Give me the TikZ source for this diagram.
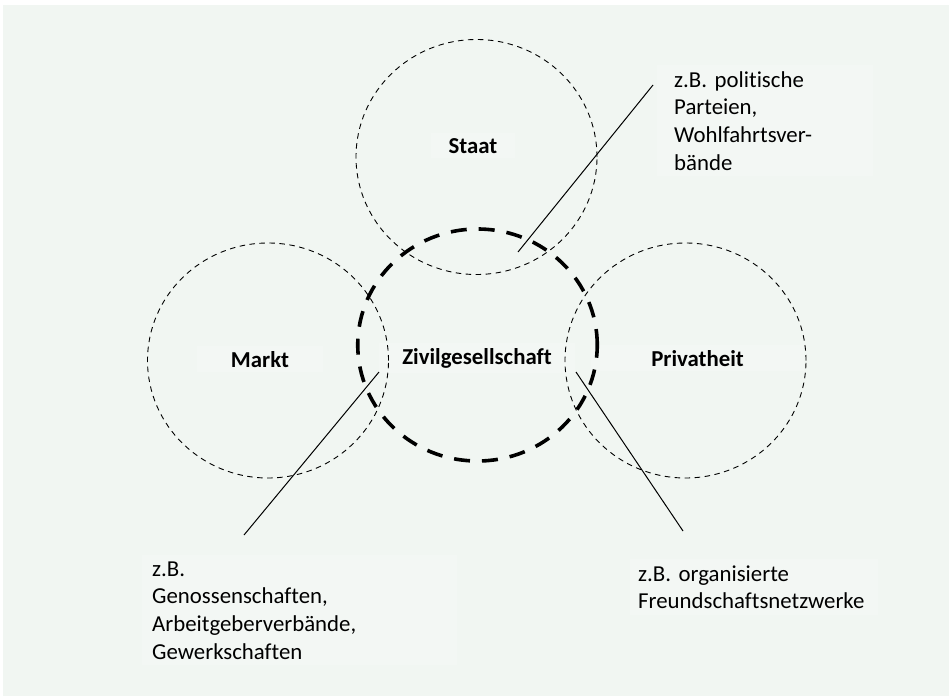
\documentclass[tikz,border=0pt]{standalone}
\usepackage{fontspec}
\setmainfont{Carlito}[Ligatures=NoCommon, Contextuals=NoAlternate]
\usetikzlibrary{shapes.geometric}
\definecolor{panel}{RGB}{241,246,242}
\definecolor{boxfill}{RGB}{243,247,244}
\frenchspacing
\begin{document}
\begin{tikzpicture}[x=1pt,y=-1pt,
  sphere/.style={draw, ellipse, inner sep=0pt, line width=0.9pt,
    dash pattern=on 5.5pt off 4.5pt, minimum width=241pt, minimum height=235pt},
  civil/.style={draw, ellipse, inner sep=0pt, line width=3.6pt,
    dash pattern=on 16pt off 12pt, minimum width=239.5pt, minimum height=232pt},
  sphlabel/.style={font=\bfseries\fontsize{22.8}{27}\selectfont, fill=boxfill,
    anchor=base, inner ysep=5pt},
  note/.style={font=\fontsize{22.8}{27.7}\selectfont, align=left, fill=boxfill,
    anchor=base west, inner ysep=6pt},
  pointer/.style={line width=1pt}]
  % page and panel
  \fill[white] (0,0) rectangle (949,696);
  \fill[panel] (3,5) rectangle (949,696);
  % labels of the spheres
  \node[sphlabel, inner xsep=18pt] (lStaat) at (473,153) {Staat};
  \node[sphlabel, inner xsep=34pt] (lMarkt) at (260,367) {Markt};
  \node[sphlabel, inner xsep=60pt] (lPriv) at (697.5,366) {Privatheit};
  \node[sphlabel, inner xsep=23pt] (lZivil) at (477,364) {Zivilgesellschaft};
  % example notes
  \node[note, inner xsep=17pt, text width=182pt] (nStaat) at (657,87)
    {z.B. politische\\Parteien,\\Wohlfahrtsver-\\bände};
  \node[note, inner xsep=10pt, text width=295pt] (nMarkt) at (142,576)
    {z.B.\\Genossenschaften,\\Arbeitgeberverbände,\\Gewerkschaften};
  \node[note, inner xsep=8pt, text width=232pt] (nPriv) at (630,581)
    {z.B. organisierte\\Freundschaftsnetzwerke};
  % the four spheres
  \node[sphere] (staat) at (476.5,157) {};
  \node[sphere] (markt) at (268,360.5) {};
  \node[sphere] (privat) at (685.5,360.5) {};
  \node[civil] (zivil) at (477.5,345) {};
  % pointer lines from the overlaps to the notes
  \coordinate (pStaatIn) at (518,252);
  \coordinate (pStaatOut) at (653,85);
  \coordinate (pMarktIn) at (379,372);
  \coordinate (pMarktOut) at (244,535);
  \coordinate (pPrivIn) at (576,372);
  \coordinate (pPrivOut) at (683,531);
  \draw[pointer] (pStaatIn) -- (pStaatOut);
  \draw[pointer] (pMarktIn) -- (pMarktOut);
  \draw[pointer] (pPrivIn) -- (pPrivOut);
\end{tikzpicture}
\end{document}
